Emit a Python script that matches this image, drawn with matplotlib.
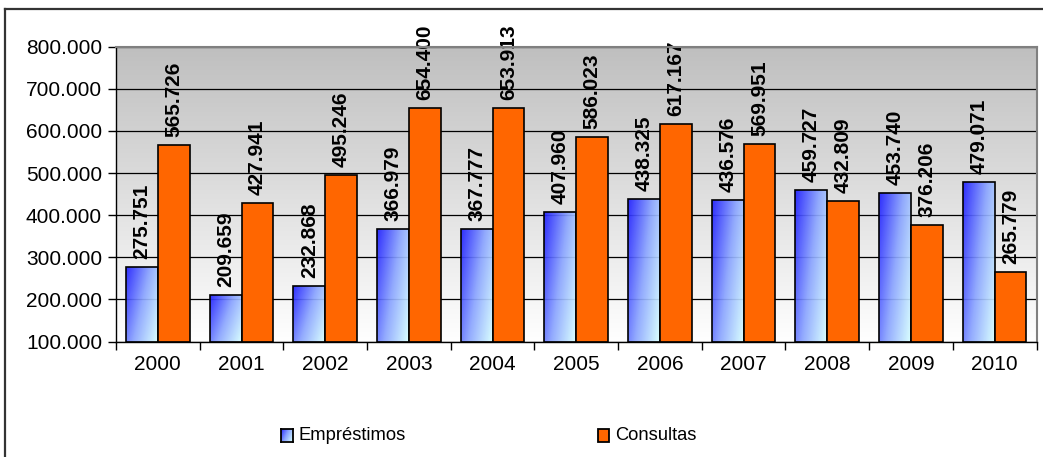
import numpy as np
import matplotlib
matplotlib.use('Agg')
from matplotlib import pyplot as plt
from matplotlib.colors import LinearSegmentedColormap
from matplotlib.patches import Rectangle
from matplotlib.lines import Line2D
from matplotlib.ticker import FuncFormatter, MultipleLocator

years = ['2000', '2001', '2002', '2003', '2004', '2005', '2006', '2007', '2008', '2009', '2010']
emprestimos = [275751, 209659, 232868, 366979, 367777, 407960, 438325, 436576, 459727, 453740, 479071]
consultas = [565726, 427941, 495246, 654400, 653913, 586023, 617167, 569951, 432809, 376206, 265779]

plt.rcParams['font.family'] = ['Liberation Sans', 'DejaVu Sans']
FS = 15
FS_LEG = 13.2


def fmt(v):
    return f'{int(v):,}'.replace(',', '.')


# diagonal gradient for the blue bars
blue_cmap = LinearSegmentedColormap.from_list('blu', ['#2020ff', '#8aa4ff', '#d6ffff'])
gx, gy = np.meshgrid(np.linspace(0, 1, 40), np.linspace(0, 1, 80))
blue_grad = 0.65 * gx + 0.35 * gy  # origin upper: gy grows downward

fig = plt.figure(figsize=(10.43, 4.57), dpi=100)
ax = fig.add_axes([116 / 1043, 1 - 341.5 / 457, (1036.5 - 116) / 1043, (341.5 - 46.7) / 457])

ymin, ymax = 100000, 800000
x = np.arange(len(years))
w = 0.38

# plot area background: gray at top, white at bottom
bg = np.linspace(0, 1, 256).reshape(-1, 1)
bg_cmap = LinearSegmentedColormap.from_list('bg', ['#bfbfbf', '#ffffff'])
ax.imshow(bg, cmap=bg_cmap, aspect='auto', extent=[-0.5, 10.5, ymin, ymax],
          origin='upper', zorder=0)

ax.yaxis.set_major_locator(MultipleLocator(100000))
ax.grid(axis='y', color='black', linewidth=0.9, zorder=1)

for i in range(len(years)):
    # Empréstimos: gradient bar
    x0 = x[i] - w
    ax.imshow(blue_grad, cmap=blue_cmap, aspect='auto',
              extent=[x0, x[i], ymin, emprestimos[i]], origin='upper',
              zorder=2, alpha=0.92)
    ax.add_patch(Rectangle((x0, ymin), w, emprestimos[i] - ymin, facecolor='none',
                           edgecolor='black', linewidth=1.2, zorder=3))
    # Consultas
    ax.add_patch(Rectangle((x[i], ymin), w, consultas[i] - ymin, facecolor='#ff6600',
                           edgecolor='black', linewidth=1.2, zorder=3))
    ax.text(x[i] - w / 2, emprestimos[i] + 19000, fmt(emprestimos[i]), rotation=90,
            ha='center', va='bottom', fontsize=FS, fontweight='bold', zorder=4)
    ax.text(x[i] + w / 2, consultas[i] + 19000, fmt(consultas[i]), rotation=90,
            ha='center', va='bottom', fontsize=FS, fontweight='bold', zorder=4,
            clip_on=False)

ax.set_xlim(-0.5, 10.5)
ax.set_ylim(ymin, ymax)

ax.yaxis.set_major_formatter(FuncFormatter(lambda v, p: fmt(v)))
ax.tick_params(axis='y', direction='out', length=6, width=1, labelsize=FS, pad=4)
ax.set_xticks(x)
ax.set_xticklabels(years)
ax.set_xticks(np.arange(-0.5, 11, 1), minor=True)
ax.tick_params(axis='x', which='major', length=0, labelsize=FS, pad=10)
ax.tick_params(axis='x', which='minor', direction='out', length=6, width=1)

for s in ['top', 'right']:
    ax.spines[s].set_color('#808080')
    ax.spines[s].set_linewidth(1.5)
for s in ['left', 'bottom']:
    ax.spines[s].set_color('black')
    ax.spines[s].set_linewidth(1.0)
for s in ax.spines.values():
    s.set_zorder(5)

# outer frame (top and left only visible)
fig.add_artist(Line2D([5 / 1043, 1], [1 - 8.5 / 457, 1 - 8.5 / 457], color='#333333',
                      linewidth=1.6, transform=fig.transFigure))
fig.add_artist(Line2D([5 / 1043, 5 / 1043], [0, 1 - 8.5 / 457], color='#333333',
                      linewidth=1.6, transform=fig.transFigure))

# legend drawn by hand so the gradient swatch can be shown
lax = fig.add_axes([281 / 1043, 1 - 441.5 / 457, 11.5 / 1043, 13 / 457])
lax.imshow(blue_grad, cmap=blue_cmap, aspect='auto', extent=[0, 1, 0, 1], origin='upper')
lax.set_xticks([])
lax.set_yticks([])
for s in lax.spines.values():
    s.set_linewidth(1.3)
fig.text(299 / 1043, 1 - 435 / 457, 'Empréstimos', fontsize=FS_LEG, va='center', ha='left')

fig.add_artist(Rectangle((598 / 1043, 1 - 441.5 / 457), 11.5 / 1043, 13 / 457,
                         facecolor='#ff6600', edgecolor='black', linewidth=1.3,
                         transform=fig.transFigure))
fig.text(615 / 1043, 1 - 435 / 457, 'Consultas', fontsize=FS_LEG, va='center', ha='left')

fig.savefig('out.png', dpi=100)
